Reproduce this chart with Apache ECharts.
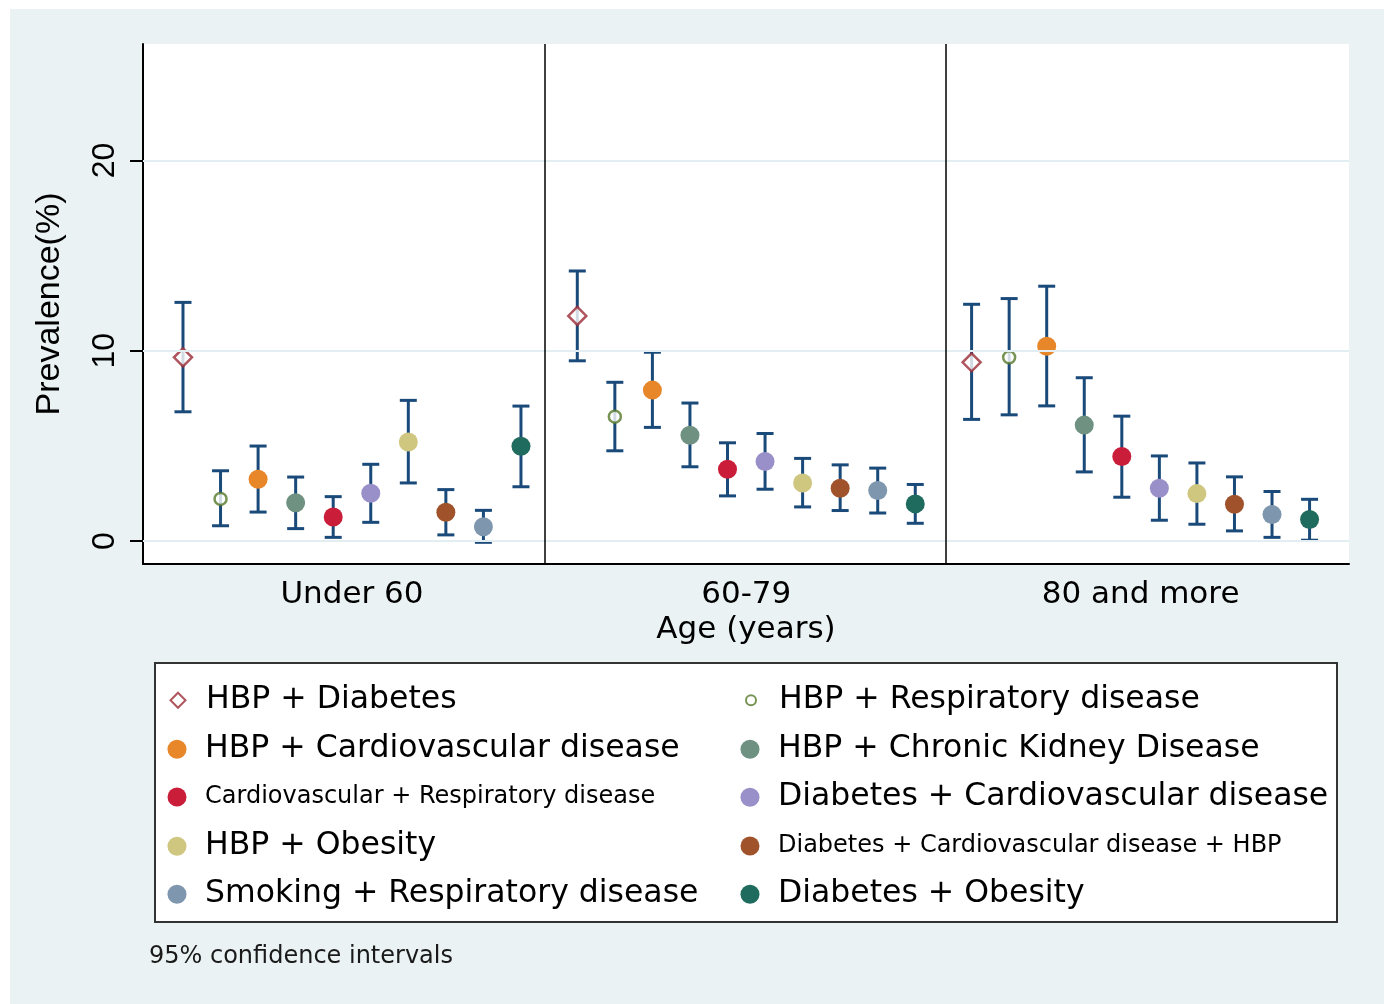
<!DOCTYPE html>
<html><head><meta charset="utf-8">
<script src="https://cdn.jsdelivr.net/npm/echarts@6/dist/echarts.min.js"></script>
<style>html,body{margin:0;padding:0;background:#fff}#c{width:1384px;height:1004px}</style>
</head><body><div id="c"></div>
<script>
// ---------- DATA ----------
const ageGroups = ['Under 60', '60-79', '80 and more'];
const seriesNames = [
  'HBP + Diabetes',
  'HBP + Respiratory disease',
  'HBP + Cardiovascular disease',
  'HBP + Chronic Kidney Disease',
  'Cardiovascular + Respiratory disease',
  'Diabetes + Cardiovascular disease',
  'HBP + Obesity',
  'Diabetes + Cardiovascular disease + HBP',
  'Smoking + Respiratory disease',
  'Diabetes + Obesity'
];
// prevalence (%) and 95% CI per age group, in seriesNames order
const estUnder60  = [9.65, 2.21, 3.24, 2.01, 1.26, 2.51, 5.20, 1.51, 0.75, 4.98];
const lowUnder60  = [6.79, 0.80, 1.52, 0.65, 0.19, 0.98, 3.05, 0.32, -0.07, 2.85];
const highUnder60 = [12.54, 3.69, 4.99, 3.36, 2.33, 4.03, 7.39, 2.70, 1.61, 7.09];
const est60to79   = [11.83, 6.53, 7.93, 5.56, 3.77, 4.18, 3.05, 2.77, 2.65, 1.95];
const low60to79   = [9.47, 4.74, 5.97, 3.90, 2.37, 2.72, 1.79, 1.60, 1.47, 0.93];
const high60to79  = [14.19, 8.34, 9.92, 7.25, 5.16, 5.65, 4.34, 4.00, 3.83, 2.97];
const est80plus   = [9.39, 9.65, 10.23, 6.09, 4.44, 2.77, 2.49, 1.93, 1.39, 1.13];
const low80plus   = [6.39, 6.63, 7.10, 3.63, 2.30, 1.09, 0.88, 0.53, 0.19, 0.04];
const high80plus  = [12.44, 12.74, 13.39, 8.58, 6.56, 4.47, 4.10, 3.37, 2.60, 2.19];
const yTickValues = [0, 10, 20];

// ---------- STYLE / LAYOUT ----------
const groupStep = 10.5;           // x-units between age panels
const dividerPos = [9.64, 20.32]; // panel dividers (x units)
const colors = ['#9b2b35','#55792b','#e8862a','#6f9181','#c91d3a','#9a90c9','#cfc67f','#a0522b','#7f97ae','#1f6b5d'];
const symbols = ['diamond','circle','circle','circle','circle','circle','circle','circle','circle','circle'];
const hollow = [true, true, false,false,false,false,false,false,false,false];
const barColor = '#1a4a7a';
const FONT = 'DejaVu Sans';

const estByGroup = [estUnder60, est60to79, est80plus];
const lowByGroup = [lowUnder60, low60to79, low80plus];
const highByGroup = [highUnder60, high60to79, high80plus];
const nItems = seriesNames.length;
const groupCenters = ageGroups.map((_, g) => g * groupStep + (nItems - 1) / 2);

const series = [];
// gridlines & dividers
series.push({
  type: 'scatter', data: [], z: 1, silent: true,
  markLine: {
    silent: true, symbol: 'none', animation: false, label: {show: false},
    data: yTickValues.map(v => ({yAxis: v, lineStyle: {color: '#e2eef1', width: 2, type: 'solid'}}))
      .concat(dividerPos.map(v => ({xAxis: v, lineStyle: {color: '#000', width: 1.5, type: 'solid'}})))
  }
});
// error bars
const barData = [];
for (let g = 0; g < ageGroups.length; g++)
  for (let i = 0; i < nItems; i++)
    barData.push([g * groupStep + i, lowByGroup[g][i], highByGroup[g][i]]);
series.push({
  type: 'custom', z: 2, silent: true, clip: false,
  encode: {x: 0, y: [1, 2]},
  data: barData,
  renderItem(params, api) {
    const x = api.value(0);
    const pLo = api.coord([x, api.value(1)]);
    const pHi = api.coord([x, api.value(2)]);
    const hw = 8.5;
    const style = {stroke: barColor, lineWidth: 3};
    return {type: 'group', children: [
      {type: 'line', shape: {x1: pLo[0], y1: pLo[1], x2: pHi[0], y2: pHi[1]}, style},
      {type: 'line', shape: {x1: pLo[0] - hw, y1: pLo[1], x2: pLo[0] + hw, y2: pLo[1]}, style},
      {type: 'line', shape: {x1: pHi[0] - hw, y1: pHi[1], x2: pHi[0] + hw, y2: pHi[1]}, style}
    ]};
  }
});
// point estimates
seriesNames.forEach((name, i) => {
  const size = symbols[i] === 'diamond' ? 18 : (hollow[i] ? 12 : 19);
  series.push({
    type: 'scatter', name, z: 3,
    symbol: symbols[i], symbolSize: size,
    itemStyle: hollow[i] ? {color: '#fff', borderColor: colors[i], borderWidth: 2.5} : {color: colors[i], opacity: 1},
    data: ageGroups.map((_, g) => [g * groupStep + i, estByGroup[g][i]])
  });
});

// legends: one per entry, 2 columns
const legendCols = [177, 750];
const legendTextX = [205, 778];
const legendRows = [697, 746, 794, 843, 891];
const smallText = [false,false,false,false,true,false,false,true,false,false];
const legends = seriesNames.map((name, i) => {
  const col = i % 2, row = Math.floor(i / 2);
  const fs = smallText[i] ? 24 : 31.5;
  const iconSize = symbols[i] === 'diamond' ? 15 : (hollow[i] ? 10 : 19);
  const left = legendCols[col] - iconSize / 2;
  const pad = legendTextX[col] - (left + iconSize + 5);
  return {
    show: true, orient: 'horizontal', padding: 0, itemGap: 0,
    left: left, top: legendRows[row] - fs / 2 + 3,
    itemWidth: iconSize, itemHeight: iconSize, selectedMode: false,
    textStyle: {fontSize: fs, fontFamily: FONT, color: '#000', padding: [0, 0, 0, pad]},
    data: [{
      name, icon: symbols[i],
      itemStyle: hollow[i] ? {color: '#fff', borderColor: colors[i], borderWidth: 2} : {color: colors[i], borderWidth: 0}
    }]
  };
});

const option = {
  animation: false,
  backgroundColor: '#fff',
  graphic: [
    {type: 'rect', z: -10, shape: {x: 10, y: 9, width: 1374, height: 995}, style: {fill: '#eaf2f3'}, silent: true},
    {type: 'rect', z: 0, shape: {x: 155, y: 663, width: 1182, height: 259}, style: {fill: '#fff', stroke: '#333', lineWidth: 2}, silent: true},
    {type: 'text', left: 149, top: 945, style: {text: '95% confidence intervals', fontSize: 24, fontFamily: FONT, fill: '#1a1a1a'}, silent: true}
  ],
  legend: legends,
  grid: {left: 143, top: 44, width: 1206, height: 520, show: true, backgroundColor: '#fff', borderWidth: 0, containLabel: false},
  xAxis: {
    type: 'value', min: -1.065, max: 31.05,
    axisLine: {show: true, onZero: false, lineStyle: {color: '#000', width: 2}},
    axisTick: {show: false},
    splitLine: {show: false},
    axisLabel: {
      customValues: groupCenters, margin: 15, fontSize: 31, fontFamily: FONT, color: '#000',
      formatter: v => { const g = groupCenters.findIndex(c => Math.abs(c - v) < 1e-6); return g >= 0 ? ageGroups[g] : ''; }
    },
    name: 'Age (years)', nameLocation: 'middle', nameGap: 49,
    nameTextStyle: {fontSize: 31, fontFamily: FONT, color: '#000'}
  },
  yAxis: {
    type: 'value', min: -1.21, max: 26.12,
    axisLine: {show: true, onZero: false, lineStyle: {color: '#000', width: 2}},
    axisTick: {show: true, customValues: yTickValues, length: 13, lineStyle: {color: '#000', width: 2}},
    splitLine: {show: false},
    axisLabel: {customValues: yTickValues, rotate: 90, margin: 22, fontSize: 32, fontFamily: 'Liberation Sans', color: '#000'},
    name: 'Prevalence(%)', nameLocation: 'middle', nameRotate: 90, nameGap: 76,
    nameTextStyle: {fontSize: 34, fontFamily: 'Liberation Sans', color: '#000'}
  },
  series
};
const chart = echarts.init(document.getElementById('c'), null, {renderer: 'canvas'});
chart.setOption(option);
</script>
</body></html>
